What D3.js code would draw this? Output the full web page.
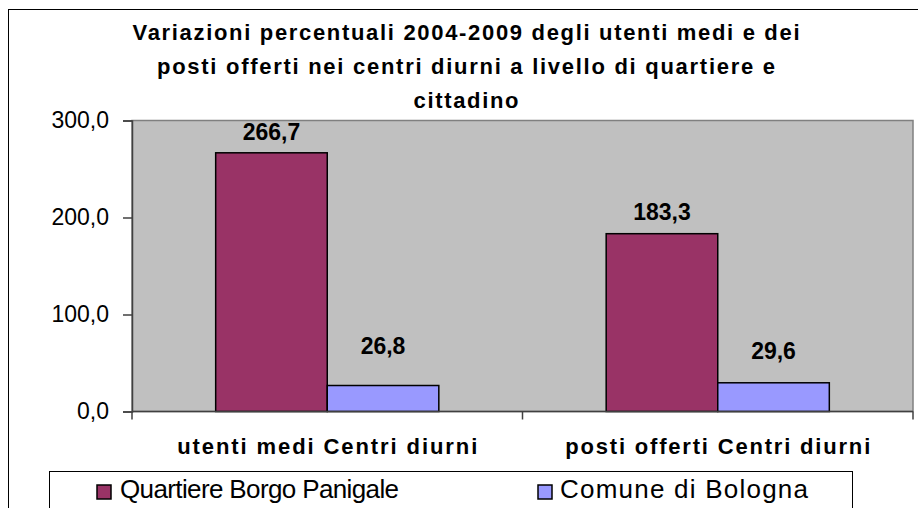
<!DOCTYPE html>
<html>
<head>
<meta charset="utf-8">
<script src="https://d3js.org/d3.v7.min.js"></script>
<style>
    body { margin: 0; background: #fff; }
    svg { display: block; font-family: "Liberation Sans", Arial, sans-serif; }
</style>
</head>
<body>
<div id="chart"></div>
<script>
// Chart data
const titleLines = [
    'Variazioni percentuali 2004-2009 degli utenti medi e dei',
    'posti offerti nei centri diurni a livello di quartiere e',
    'cittadino'
];
const categories = ['utenti medi Centri diurni', 'posti offerti Centri diurni'];
const series = ['Quartiere Borgo Panigale', 'Comune di Bologna'];
const borgoPanigale = [266.7, 183.3];
const comuneBologna = [26.8, 29.6];
const yTicks = [0, 100, 200, 300];

const values = [borgoPanigale, comuneBologna];
const colors = ['#993366', '#9999FF'];

// Layout (pixels)
const config = {
    width: 918,
    height: 508,
    plot: { left: 132, right: 913, top: 120.5, bottom: 411.5 },
    titleX: 466,
    titleBaselines: [40, 74, 108],
    titleWidths: [667, 618, 105],
    catBaseline: 454,
    catWidths: [300, 305],
    // distance between bar top and label baseline
    labelLift: [[13, 32], [14, 24]],
    legend: { x: 49.5, y: 471.5, w: 803, markerX: [97, 538], textX: [120, 560], textW: [279, 248] }
};

const svg = d3.select('#chart')
    .append('svg')
    .attr('width', config.width)
    .attr('height', config.height);

// Outer chart border (runs off the right and bottom edges)
svg.append('rect')
    .attr('x', 8.5).attr('y', 9.5)
    .attr('width', 1000).attr('height', 600)
    .attr('fill', '#fff')
    .attr('stroke', '#000')
    .attr('stroke-width', 1);

// Title
svg.append('g').selectAll('text')
    .data(titleLines)
    .join('text')
    .attr('x', config.titleX)
    .attr('y', (d, i) => config.titleBaselines[i])
    .attr('text-anchor', 'middle')
    .attr('textLength', (d, i) => config.titleWidths[i])
    .attr('lengthAdjust', 'spacing')
    .style('font-size', '22px')
    .style('font-weight', 'bold')
    .text(d => d);

// Scales
const p = config.plot;
const y = d3.scaleLinear().domain([0, 300]).range([p.bottom, p.top]);
const x0 = d3.scaleBand().domain(categories).range([p.left, p.right]);
const x1 = d3.scaleBand().domain(series).range([0, x0.bandwidth()]).paddingOuter(0.75);

// Plot area
svg.append('rect')
    .attr('x', p.left).attr('y', p.top)
    .attr('width', p.right - p.left).attr('height', p.bottom - p.top)
    .attr('fill', '#c0c0c0')
    .attr('stroke', '#808080')
    .attr('stroke-width', 1.5);

// Bars
categories.forEach((cat, ci) => {
    series.forEach((s, si) => {
        const v = values[si][ci];
        const bx = x0(cat) + x1(s);
        svg.append('rect')
            .attr('x', bx)
            .attr('y', y(v))
            .attr('width', x1.bandwidth())
            .attr('height', y(0) - y(v))
            .attr('fill', colors[si])
            .attr('stroke', '#000')
            .attr('stroke-width', 1.5);

        svg.append('text')
            .attr('x', bx + x1.bandwidth() / 2)
            .attr('y', y(v) - config.labelLift[ci][si])
            .attr('text-anchor', 'middle')
            .style('font-size', '23px')
            .style('font-weight', 'bold')
            .text(v.toFixed(1).replace('.', ','));
    });
});

// Y axis
const yAxis = svg.append('g')
    .attr('transform', `translate(${p.left},0)`)
    .call(d3.axisLeft(y)
        .tickValues(yTicks)
        .tickSize(9)
        .tickPadding(14)
        .tickFormat(d => d.toFixed(1).replace('.', ',')));
yAxis.select('.domain').attr('stroke', '#404040').attr('stroke-width', 1.5);
yAxis.selectAll('.tick line').attr('stroke', '#404040').attr('stroke-width', 1.5);
yAxis.selectAll('.tick text')
    .attr('fill', '#000')
    .style('font-size', '23px')
    .style('font-family', '"Liberation Sans", Arial, sans-serif');

// X axis line and category divider ticks
svg.append('line')
    .attr('x1', p.left).attr('x2', p.right)
    .attr('y1', p.bottom).attr('y2', p.bottom)
    .attr('stroke', '#404040').attr('stroke-width', 1.5);
svg.append('g').selectAll('line')
    .data(categories.map(c => x0(c)).concat([p.right]))
    .join('line')
    .attr('x1', d => d).attr('x2', d => d)
    .attr('y1', p.bottom).attr('y2', p.bottom + 8)
    .attr('stroke', '#404040').attr('stroke-width', 1.5);

// Category labels
svg.append('g').selectAll('text')
    .data(categories)
    .join('text')
    .attr('x', d => x0(d) + x0.bandwidth() / 2)
    .attr('y', config.catBaseline)
    .attr('text-anchor', 'middle')
    .attr('textLength', (d, i) => config.catWidths[i])
    .attr('lengthAdjust', 'spacing')
    .style('font-size', '22px')
    .style('font-weight', 'bold')
    .text(d => d);

// Legend
const lg = config.legend;
svg.append('rect')
    .attr('x', lg.x).attr('y', lg.y)
    .attr('width', lg.w).attr('height', 80)
    .attr('fill', '#fff')
    .attr('stroke', '#000')
    .attr('stroke-width', 1);

series.forEach((s, i) => {
    svg.append('rect')
        .attr('x', lg.markerX[i]).attr('y', 485)
        .attr('width', 14).attr('height', 14)
        .attr('fill', colors[i])
        .attr('stroke', '#000')
        .attr('stroke-width', 1.5);
    svg.append('text')
        .attr('x', lg.textX[i])
        .attr('y', 498)
        .attr('textLength', lg.textW[i])
        .attr('lengthAdjust', 'spacing')
        .style('font-size', '26px')
        .text(s);
});
</script>
</body>
</html>
